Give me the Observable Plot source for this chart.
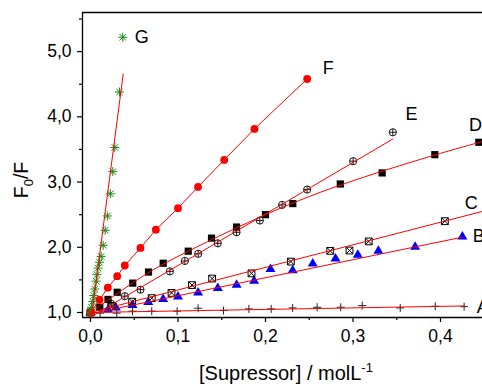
<!DOCTYPE html>
<html><head><meta charset="utf-8">
<script src="https://cdn.jsdelivr.net/npm/d3@7"></script>
<script src="https://cdn.jsdelivr.net/npm/@observablehq/plot@0.6"></script>
<style>html,body{margin:0;padding:0;background:#fff;overflow:hidden}</style>
</head><body><div id="chart"></div>
<script>
// ---- data ----
const xMajor = [0, 0.1, 0.2, 0.3, 0.4];
const xMinor = [0.05, 0.15, 0.25, 0.35, 0.45];
const yMajor = [1, 2, 3, 4, 5];
const yMinor = [1.5, 2.5, 3.5, 4.5, 5.5];
const xDomain = [-0.00914, 0.448];
const yDomain = [0.923, 5.6];

const gX = [0, 0.0011, 0.0026, 0.0038, 0.0049, 0.0065, 0.0075, 0.0085, 0.0103, 0.0122, 0.0145, 0.0168, 0.0193, 0.0227, 0.0255, 0.0278, 0.0331];
const gY = [1.0, 1.08, 1.17, 1.26, 1.36, 1.48, 1.58, 1.68, 1.77, 1.86, 2.03, 2.26, 2.48, 2.82, 3.16, 3.53, 4.38];
const fX = [0, 0.0103, 0.0198, 0.0305, 0.0392, 0.0571, 0.0747, 0.1000, 0.1229, 0.1528, 0.1874, 0.2476];
const fY = [1.0, 1.195, 1.38, 1.556, 1.72, 1.99, 2.27, 2.60, 2.925, 3.34, 3.815, 4.58];
const eX = [0, 0.0236, 0.0392, 0.0571, 0.0907, 0.1078, 0.1231, 0.1455, 0.1669, 0.1935, 0.219, 0.2476, 0.3002, 0.3455];
const eY = [1.0, 1.133, 1.25, 1.35, 1.63, 1.79, 1.90, 2.06, 2.23, 2.41, 2.65, 2.885, 3.32, 3.763];
const dX = [0, 0.0106, 0.020, 0.0305, 0.0483, 0.0663, 0.0831, 0.1117, 0.1383, 0.1669, 0.200, 0.2312, 0.2855, 0.3333, 0.3935, 0.4438];
const dY = [1.0, 1.08, 1.20, 1.31, 1.45, 1.62, 1.755, 1.94, 2.14, 2.31, 2.50, 2.67, 2.97, 3.14, 3.42, 3.61];
const cX = [0, 0.025, 0.0476, 0.0700, 0.0926, 0.1160, 0.139, 0.184, 0.229, 0.274, 0.296, 0.318, 0.405];
const cY = [1.0, 1.10, 1.165, 1.22, 1.30, 1.42, 1.52, 1.60, 1.78, 1.945, 1.95, 2.09, 2.40];
const bX = [0, 0.020, 0.029, 0.048, 0.066, 0.083, 0.100, 0.123, 0.1455, 0.167, 0.187, 0.2057, 0.231, 0.254, 0.280, 0.3055, 0.329, 0.371, 0.425];
const bY = [1.0, 1.05, 1.08, 1.12, 1.165, 1.21, 1.25, 1.31, 1.38, 1.43, 1.49, 1.67, 1.65, 1.755, 1.83, 1.89, 1.95, 2.01, 2.17];
const aX = [0, 0.011, 0.030, 0.048, 0.070, 0.099, 0.123, 0.152, 0.181, 0.2065, 0.231, 0.259, 0.286, 0.3105, 0.354, 0.394, 0.427];
const aY = [1.0, 0.99, 0.99, 1.02, 1.02, 1.02, 1.065, 1.03, 1.055, 1.055, 1.07, 1.08, 1.08, 1.105, 1.07, 1.095, 1.09];

// fitted lines (read end/through points)
const gFit = [[0.0011, 0.928], [0.0374, 4.658]];
const eFit = [[0, 0.93], [0.3455, 3.66]];
const dFit = [[0, 1.0], [0.05, 1.47], [0.1, 1.86], [0.2, 2.50], [0.3, 3.02], [0.4, 3.44], [0.448, 3.62]];
const cFit = [[0, 1.0], [0.448, 2.55]];
const bFit = [[0, 0.98], [0.425, 2.155]];
const aFit = [[0, 1.0], [0.427, 1.10]];

const labelNames = ["G", "F", "E", "D", "C", "B", "A"];
const labelX = [0.0505, 0.2655, 0.360, 0.4325, 0.4276, 0.437, 0.4413];
const labelY = [5.22, 4.75, 4.04, 3.875, 2.68, 2.175, 1.087];
const gKeyX = [0.0369];
const gKeyY = [5.22];

// ---- helpers ----
const pts = (xs, ys) => xs.map((x, i) => ({x, y: ys[i]}));
const fitPts = (arr) => arr.map(([x, y]) => ({x, y}));
const R = s => Math.sqrt(s / Math.PI);
const asteriskSym = {draw(c, s){const r=R(s), d=r*0.7071; c.moveTo(-r,0);c.lineTo(r,0);c.moveTo(0,-r);c.lineTo(0,r);c.moveTo(-d,-d);c.lineTo(d,d);c.moveTo(-d,d);c.lineTo(d,-d);}};
const plusSym = {draw(c, s){const r=R(s); c.moveTo(-r,0);c.lineTo(r,0);c.moveTo(0,-r);c.lineTo(0,r);}};
const circlePlusSym = {draw(c, s){const r=R(s); c.moveTo(r,0);c.arc(0,0,r,0,2*Math.PI);c.moveTo(-r,0);c.lineTo(r,0);c.moveTo(0,-r);c.lineTo(0,r);}};
const squareSym = {draw(c, s){const r=R(s); c.rect(-r,-r,2*r,2*r);}};
const boxTimesSym = {draw(c, s){const r=R(s); c.rect(-r,-r,2*r,2*r);c.moveTo(-r,-r);c.lineTo(r,r);c.moveTo(-r,r);c.lineTo(r,-r);}};
const triSym = {draw(c, s){const r=R(s), h=r*1.7; c.moveTo(0,-h*0.62);c.lineTo(r,h*0.38);c.lineTo(-r,h*0.38);c.closePath();}};
const circleSym = {draw(c, s){const r=R(s); c.moveTo(r,0);c.arc(0,0,r,0,2*Math.PI);}};

const fmt = d => d.toFixed(1).replace(".", ",");
const FONT = "'Liberation Sans', Arial, sans-serif";
const RED = "#ff0000";

const labels = labelNames.map((t, i) => ({t, x: labelX[i], y: labelY[i]}));

const plot = Plot.plot({
  width: 482, height: 387,
  marginLeft: 82, marginRight: 0, marginTop: 12, marginBottom: 70,
  style: {fontFamily: FONT, background: "#fff", overflow: "visible"},
  x: {domain: xDomain, label: null},
  y: {domain: yDomain, label: null},
  marks: [
    Plot.axisY(yMajor, {label: null, tickSize: 5, tickPadding: 6, tickFormat: fmt, fontSize: 17.5, color: "#000", strokeWidth: 1.2}),
    Plot.axisY(yMinor, {label: null, tickSize: 3, tickFormat: () => "", strokeWidth: 1.2}),
    Plot.axisX(xMajor, {label: null, tickSize: 5, tickPadding: 7, tickFormat: fmt, fontSize: 17.5, color: "#000", strokeWidth: 1.2}),
    Plot.axisX(xMinor.filter(v => v < xDomain[1]), {label: null, tickSize: 3, tickFormat: () => "", strokeWidth: 1.2}),
    Plot.ruleX([xDomain[0]], {stroke: "#000", strokeWidth: 1.3}),
    Plot.ruleY([yDomain[0], yDomain[1]], {stroke: "#000", strokeWidth: 1.3}),

    // markers
    Plot.dot(pts(aX, aY), {x: "x", y: "y", symbol: plusSym, r: 4, stroke: "#222", strokeWidth: 1, fill: "none"}),
    Plot.dot(pts(bX, bY), {x: "x", y: "y", symbol: triSym, r: 5, fill: "#0000ff", stroke: "none"}),
    Plot.dot(pts(cX, cY), {x: "x", y: "y", symbol: boxTimesSym, r: 3.4, stroke: "#000", strokeWidth: 1, fill: "none"}),
    Plot.dot(pts(dX, dY), {x: "x", y: "y", symbol: squareSym, r: 3.6, fill: "#000", stroke: "none"}),
    Plot.dot(pts(eX, eY), {x: "x", y: "y", symbol: circlePlusSym, r: 3.6, stroke: "#000", strokeWidth: 0.9, fill: "none"}),
    Plot.dot(pts(fX, fY), {x: "x", y: "y", symbol: circleSym, r: 3.9, fill: RED, stroke: "none"}),
    Plot.dot(pts(gX, gY), {x: "x", y: "y", symbol: asteriskSym, r: 4.5, stroke: "#138a13", strokeWidth: 1, fill: "none"}),
    Plot.dot(pts(gKeyX, gKeyY), {x: "x", y: "y", symbol: asteriskSym, r: 4.5, stroke: "#138a13", strokeWidth: 1, fill: "none"}),

    // fit lines
    Plot.line(fitPts(aFit), {x: "x", y: "y", stroke: RED, strokeWidth: 1}),
    Plot.line(fitPts(bFit), {x: "x", y: "y", stroke: RED, strokeWidth: 1}),
    Plot.line(fitPts(cFit), {x: "x", y: "y", stroke: RED, strokeWidth: 1}),
    Plot.line(fitPts(dFit), {x: "x", y: "y", stroke: RED, strokeWidth: 1, curve: "natural"}),
    Plot.line(fitPts(eFit), {x: "x", y: "y", stroke: RED, strokeWidth: 1}),
    Plot.line(pts(fX, fY), {x: "x", y: "y", stroke: RED, strokeWidth: 1}),
    Plot.line(fitPts(gFit), {x: "x", y: "y", stroke: RED, strokeWidth: 1}),

    Plot.text(labels, {x: "x", y: "y", text: "t", textAnchor: "start", lineAnchor: "middle", fontSize: 18, fill: "#000"})
  ]
});

document.getElementById("chart").appendChild(plot);

// axis titles with sub/superscripts
const svg = d3.select(plot);
const xt = svg.append("text").attr("x", 286).attr("y", 380).attr("text-anchor", "middle")
  .attr("font-size", 20).attr("font-family", FONT).attr("fill", "#000");
xt.append("tspan").text("[Supressor] / molL");
xt.append("tspan").attr("dy", -8).attr("font-size", 13).text("-1");

const yt = svg.append("text").attr("transform", "translate(28,180) rotate(-90)").attr("text-anchor", "middle")
  .attr("font-size", 19.5).attr("font-family", FONT).attr("fill", "#000");
yt.append("tspan").text("F");
yt.append("tspan").attr("dy", 5).attr("font-size", 13).text("0");
yt.append("tspan").attr("dy", -5).text("/F");
</script></body></html>
